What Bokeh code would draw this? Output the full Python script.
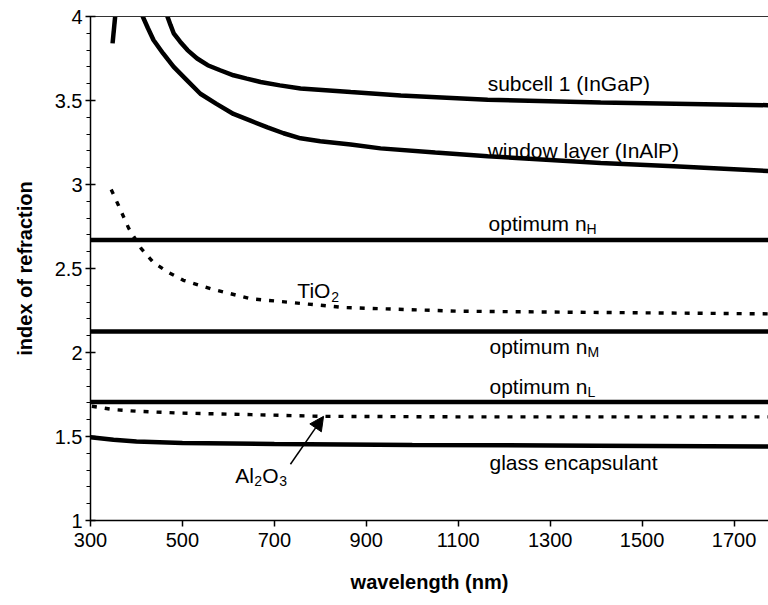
from bokeh.plotting import figure
from bokeh.models import FixedTicker, LinearAxis, Range1d, Arrow, NormalHead
from bokeh.core.properties import value
from bokeh.embed import file_html
from bokeh.resources import INLINE

# ---------------- data ----------------
x_ticks = [300, 500, 700, 900, 1100, 1300, 1500, 1700]
y_ticks = [1, 1.5, 2, 2.5, 3, 3.5, 4]
y_tick_labels = ["1", "1.5", "2", "2.5", "3", "3.5", "4"]
y_minor_ticks = [1.1, 1.2, 1.3, 1.4, 1.6, 1.7, 1.8, 1.9, 2.1, 2.2, 2.3, 2.4,
                 2.6, 2.7, 2.8, 2.9, 3.1, 3.2, 3.3, 3.4, 3.6, 3.7, 3.8, 3.9]

ingap_wl = [466, 474, 481, 495, 511, 532, 555, 582, 611, 640, 670, 712, 757, 866, 975, 1164, 1410, 1775]
ingap_n = [4.01, 3.95, 3.90, 3.85, 3.80, 3.75, 3.71, 3.68, 3.65, 3.63, 3.61, 3.59, 3.572, 3.55, 3.53, 3.505, 3.488, 3.472]
ingap_uv_wl = [354, 348]
ingap_uv_n = [4.01, 3.84]

inalp_wl = [412, 425, 437, 458, 481, 510, 539, 574, 611, 648, 685, 720, 757, 800, 866, 931, 1050, 1164, 1410, 1569, 1775]
inalp_n = [4.01, 3.93, 3.86, 3.78, 3.70, 3.62, 3.54, 3.48, 3.42, 3.38, 3.34, 3.305, 3.275, 3.258, 3.238, 3.215, 3.19, 3.168, 3.128, 3.108, 3.08]

tio2_wl = [345, 361, 383, 410, 437, 470, 502, 561, 648, 735, 851, 960, 1099, 1338, 1775]
tio2_n = [2.97, 2.875, 2.74, 2.62, 2.536, 2.476, 2.43, 2.38, 2.32, 2.298, 2.268, 2.258, 2.246, 2.24, 2.23]

al2o3_wl = [303, 350, 402, 489, 650, 807, 1100, 1400, 1775]
al2o3_n = [1.68, 1.66, 1.65, 1.64, 1.63, 1.62, 1.617, 1.617, 1.617]

glass_wl = [300, 350, 400, 500, 700, 1000, 1400, 1775]
glass_n = [1.495, 1.48, 1.47, 1.462, 1.455, 1.45, 1.445, 1.44]

flat_wl = [300, 1780]
n_H = 2.67
n_M = 2.125
n_L = 1.705

# ---------------- figure ----------------
FONT = "Liberation Sans"

p = figure(width=768, height=605, x_range=Range1d(300, 1775), y_range=Range1d(1, 4),
           output_backend="svg", toolbar_location=None,
           min_border_left=90, min_border_right=0, min_border_top=16, min_border_bottom=85)
p.grid.visible = False
p.outline_line_color = None
p.background_fill_color = "white"
p.border_fill_color = "white"

LW = 4.5
p.line(ingap_wl, ingap_n, line_color="black", line_width=LW)
p.line(ingap_uv_wl, ingap_uv_n, line_color="black", line_width=LW)
p.line(inalp_wl, inalp_n, line_color="black", line_width=LW)
p.line(flat_wl, [n_H, n_H], line_color="black", line_width=LW)
p.line(flat_wl, [n_M, n_M], line_color="black", line_width=LW)
p.line(flat_wl, [n_L, n_L], line_color="black", line_width=LW)
p.line(glass_wl, glass_n, line_color="black", line_width=LW)
p.line(tio2_wl, tio2_n, line_color="black", line_width=3.4, line_dash="5 8")
p.line(al2o3_wl, al2o3_n, line_color="black", line_width=3.4, line_dash="5 8")

# axes
xa = p.xaxis[0]
xa.ticker = FixedTicker(ticks=x_ticks)
xa.major_tick_out = 6
xa.major_tick_in = 0
xa.minor_tick_out = 0
xa.axis_line_width = 1.5
xa.major_tick_line_width = 1.5
xa.major_label_standoff = 6
xa.major_label_text_font = FONT
xa.major_label_text_font_size = "20px"
xa.major_label_text_color = "black"
xa.axis_label = "wavelength (nm)"
xa.axis_label_text_font = FONT
xa.axis_label_text_font_style = "bold"
xa.axis_label_text_font_size = "20px"
xa.axis_label_text_color = "black"
xa.axis_label_standoff = 21

ya = p.yaxis[0]
ya.ticker = FixedTicker(ticks=y_ticks, minor_ticks=y_minor_ticks)
ya.major_label_overrides = {t: s for t, s in zip(y_ticks, y_tick_labels)}
ya.major_tick_out = 5
ya.major_tick_in = 5
ya.minor_tick_out = 4
ya.minor_tick_in = 0
ya.axis_line_width = 1.5
ya.major_tick_line_width = 1.5
ya.major_label_standoff = 3
ya.major_label_text_font = FONT
ya.major_label_text_font_size = "20px"
ya.major_label_text_color = "black"
ya.axis_label = "index of refraction"
ya.axis_label_text_font = FONT
ya.axis_label_text_font_style = "bold"
ya.axis_label_text_font_size = "20px"
ya.axis_label_text_color = "black"
ya.axis_label_standoff = 16

top = LinearAxis(ticker=FixedTicker(ticks=[]), major_label_text_font_size="0px",
                 axis_line_color="#333333", axis_line_width=1,
                 major_tick_line_color=None, minor_tick_line_color=None)
p.add_layout(top, "above")

# annotations
def txt(x, y, s, size=21, dx=0, dy=0):
    p.text([x], [y], text=[s], text_font=value(FONT), text_font_size=f"{size}px",
           text_color="black", text_baseline="middle", text_align="left",
           x_offset=dx, y_offset=dy)

def sub_txt(x, y, base, sub, base_w):
    txt(x, y, base)
    txt(x, y, sub, size=14, dx=base_w, dy=6)

txt(1164, 3.60, "subcell 1 (InGaP)")
txt(1164, 3.205, "window layer (InAlP)")
sub_txt(1166, 2.768, "optimum n", "H", 98)
sub_txt(1168, 2.036, "optimum n", "M", 98)
sub_txt(1168, 1.80, "optimum n", "L", 98)
txt(1168, 1.347, "glass encapsulant")
sub_txt(750, 2.367, "TiO", "2", 34)
# Al2O3
txt(615, 1.27, "Al")
txt(615, 1.27, "2", size=14, dx=19, dy=6)
txt(615, 1.27, "O", dx=27)
txt(615, 1.27, "3", size=14, dx=44, dy=6)

p.add_layout(Arrow(end=NormalHead(size=14, fill_color="black", line_color="black"),
                   x_start=735, y_start=1.335, x_end=807, y_end=1.62,
                   line_color="black", line_width=1.5))

open("out.html", "w").write(file_html(p, INLINE))
